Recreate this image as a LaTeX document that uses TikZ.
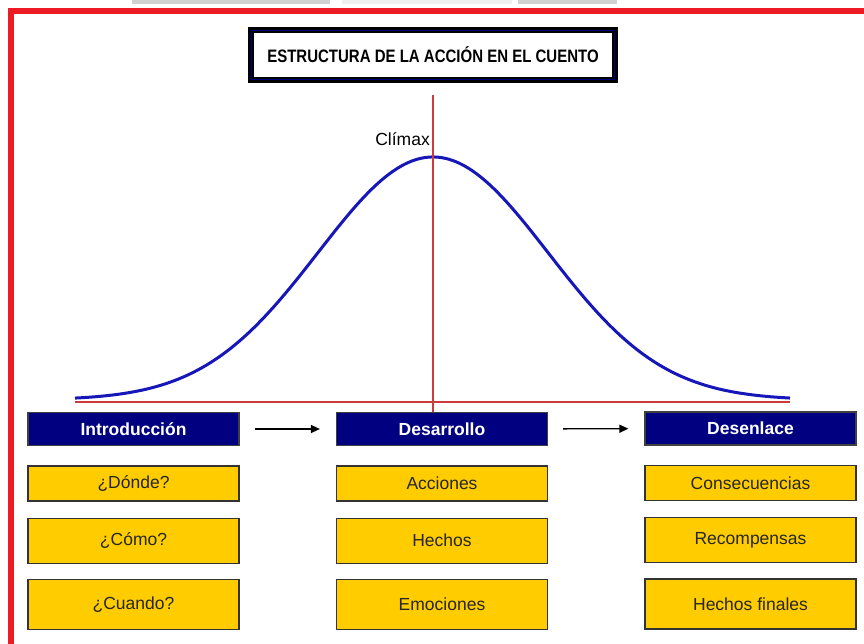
\documentclass[tikz,border=0pt]{standalone}
\usepackage{fontspec}
\setmainfont{Liberation Sans}
\usepackage{tikz}
\usetikzlibrary{calc}
\usetikzlibrary{arrows.meta,positioning}
\definecolor{cuentonavy}{RGB}{0,0,128}
\definecolor{cuentogold}{RGB}{255,204,0}
\definecolor{marcored}{RGB}{237,28,36}
\definecolor{campana}{RGB}{22,22,185}
\definecolor{ejerojo}{RGB}{205,60,60}

\begin{document}
\begin{tikzpicture}[x=1pt, y=-1pt, font=\fontsize{17.5}{20}\selectfont]
      \tikzstyle{head}=[rectangle,draw=black!75,line width=1.2pt,fill=cuentonavy,text=white,font=\fontsize{17.5}{20}\selectfont\bfseries,minimum width=211pt,minimum height=33pt,inner sep=0pt]
      \tikzstyle{item}=[rectangle,draw=black!80,line width=1.4pt,fill=cuentogold,text=black!85,minimum width=211pt,inner sep=0pt]
      \tikzstyle{eje}=[ejerojo,line width=1.3pt]
      \tikzstyle{flecha}=[line width=1.4pt,-{Triangle[length=9pt,width=8pt]},shorten <=15pt,shorten >=16pt]
      \useasboundingbox (0,0) rectangle (864,644);
      % top strip and red frame
      \fill[black!18] (132,0) rectangle (330,4);
      \fill[black!6] (342,0) rectangle (512,4);
      \fill[black!18] (518,0) rectangle (617,4);
      \draw[marcored,line width=6pt] (864,11.5) -- (10.5,11.5) -- (10.5,644);
      % title
      \node[draw=black,line width=6pt,fill=white,minimum width=364pt,minimum height=50pt,inner sep=0pt,font=\fontsize{15}{18}\selectfont\bfseries] (titulo) at (433,55) {\scalebox{1}[1.2]{ESTRUCTURA DE LA ACCIÓN EN EL CUENTO}};
      \draw[cuentonavy,line width=0.8pt] ($(titulo.north west)+(3.8,3.8)$) rectangle ($(titulo.south east)+(-3.8,-3.8)$);
      % headers
      \node[head] (intro) at (133.5,429) {Introducción};
      \node[head] (desarrollo) at (442,429) {Desarrollo};
      \node[head] (desenlace) at (750.5,428.5) {Desenlace};
      % bell curve and axes
      \draw[campana,line width=3pt,domain=75:790,samples=120,smooth] plot (\x,{400-243*exp(-0.5*((\x-433)/115)*((\x-433)/115))});
      \coordinate (ejeizq) at (75,402);
      \coordinate (ejeder) at (790,402);
      \coordinate (cima) at (433,95);
      \draw[eje] (ejeizq) -- (ejeder);
      \draw[eje] (cima) -- (cima |- desarrollo.north);
      \node[anchor=east,inner sep=0pt] (climax) at (430,139) {Clímax};
      % items
      \node[item,minimum height=35pt,below=19pt of intro] (donde) {¿Dónde?};
      \node[item,minimum height=45pt,below=16pt of donde] (como) {¿Cómo?};
      \node[item,minimum height=50pt,below=15pt of como] (cuando) {¿Cuando?};
      \node[item,minimum height=35pt,below=19pt of desarrollo] (acciones) {Acciones};
      \node[item,minimum height=45pt,below=16pt of acciones] (hechos) {Hechos};
      \node[item,minimum height=50pt,below=15pt of hechos] (emociones) {Emociones};
      \node[item,minimum height=35pt,below=19pt of desenlace] (consec) {Consecuencias};
      \node[item,minimum height=45pt,below=16pt of consec] (recomp) {Recompensas};
      \node[item,minimum height=50pt,below=15pt of recomp] (finales) {Hechos finales};
      \draw[flecha] (intro) -- (desarrollo);
      \draw[flecha] (desarrollo) -- (desenlace);

    \end{tikzpicture}
\end{document}
